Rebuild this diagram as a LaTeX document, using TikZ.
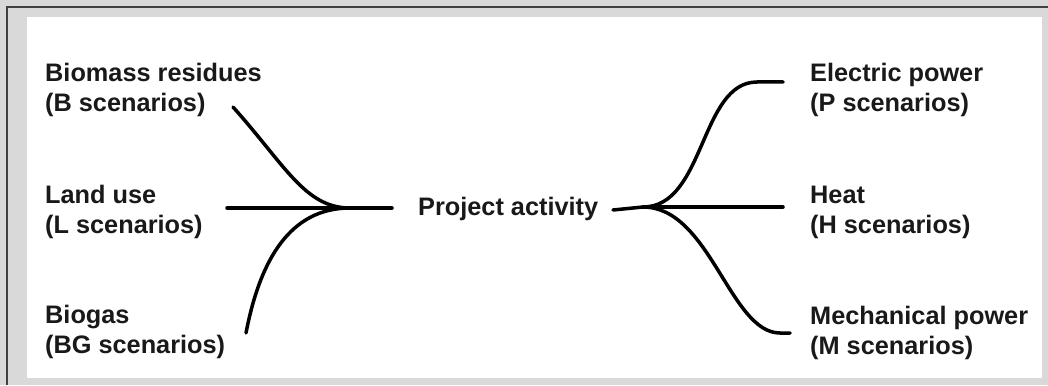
\documentclass[tikz,border=0pt]{standalone}
\usepackage{fontspec}
\setmainfont{Liberation Sans}
\begin{document}
\begin{tikzpicture}[x=1pt,y=-1pt,
  lbl/.style={anchor=base west,inner sep=0pt,align=left,font=\bfseries\fontsize{25.3}{30}\selectfont,text=black!90},
  conn/.style={line width=3.5pt,black,line cap=round}]
\useasboundingbox (0,0) rectangle (1048,385);
\fill[black!15] (0,0) rectangle (1048,385);
\draw[black!75,line width=2pt] (7,385) -- (7,7) -- (1048,7);
\fill[white] (27,17) rectangle (1042,378);
% labels (anchor at baseline of the last line)
\node[lbl] (bio) at (45,112) {Biomass residues\\(B scenarios)};
\node[lbl] (land) at (45,233) {Land use\\(L scenarios)};
\node[lbl] (biogas) at (45,353) {Biogas\\(BG scenarios)};
\node[lbl] (pa) at (418,215) {Project activity};
\node[lbl] (elec) at (810,112) {Electric power\\(P scenarios)};
\node[lbl] (heat) at (810,233) {Heat\\(H scenarios)};
\node[lbl] (mech) at (810,354) {Mechanical power\\(M scenarios)};
% connector points
\coordinate (bEnd) at (233,107);
\coordinate (lStart) at (227,208);
\coordinate (lEnd) at (392,208);
\coordinate (gEnd) at (246,333);
\coordinate (jl) at (350,208);
\coordinate (paOut) at (613,210);
\coordinate (jr) at (643,207);
\coordinate (eBend) at (757,82);
\coordinate (eEnd) at (783,82);
\coordinate (hEnd) at (783,207);
\coordinate (mBend) at (780,333);
\coordinate (mEnd) at (790,333);
% left connectors
\draw[conn] (lStart) -- (lEnd);
\draw[conn] (bEnd) .. controls (285,165) and (305,208) .. (jl);
\draw[conn] (gEnd) .. controls (260,260) and (290,208) .. (jl);
% right connectors
\draw[conn] (paOut) -- (jr);
\draw[conn] (jr) -- (hEnd);
\draw[conn] (jr) .. controls (705,207) and (700,82) .. (eBend) -- (eEnd);
\draw[conn] (jr) .. controls (710,207) and (730,333) .. (mBend) -- (mEnd);
\end{tikzpicture}
\end{document}
